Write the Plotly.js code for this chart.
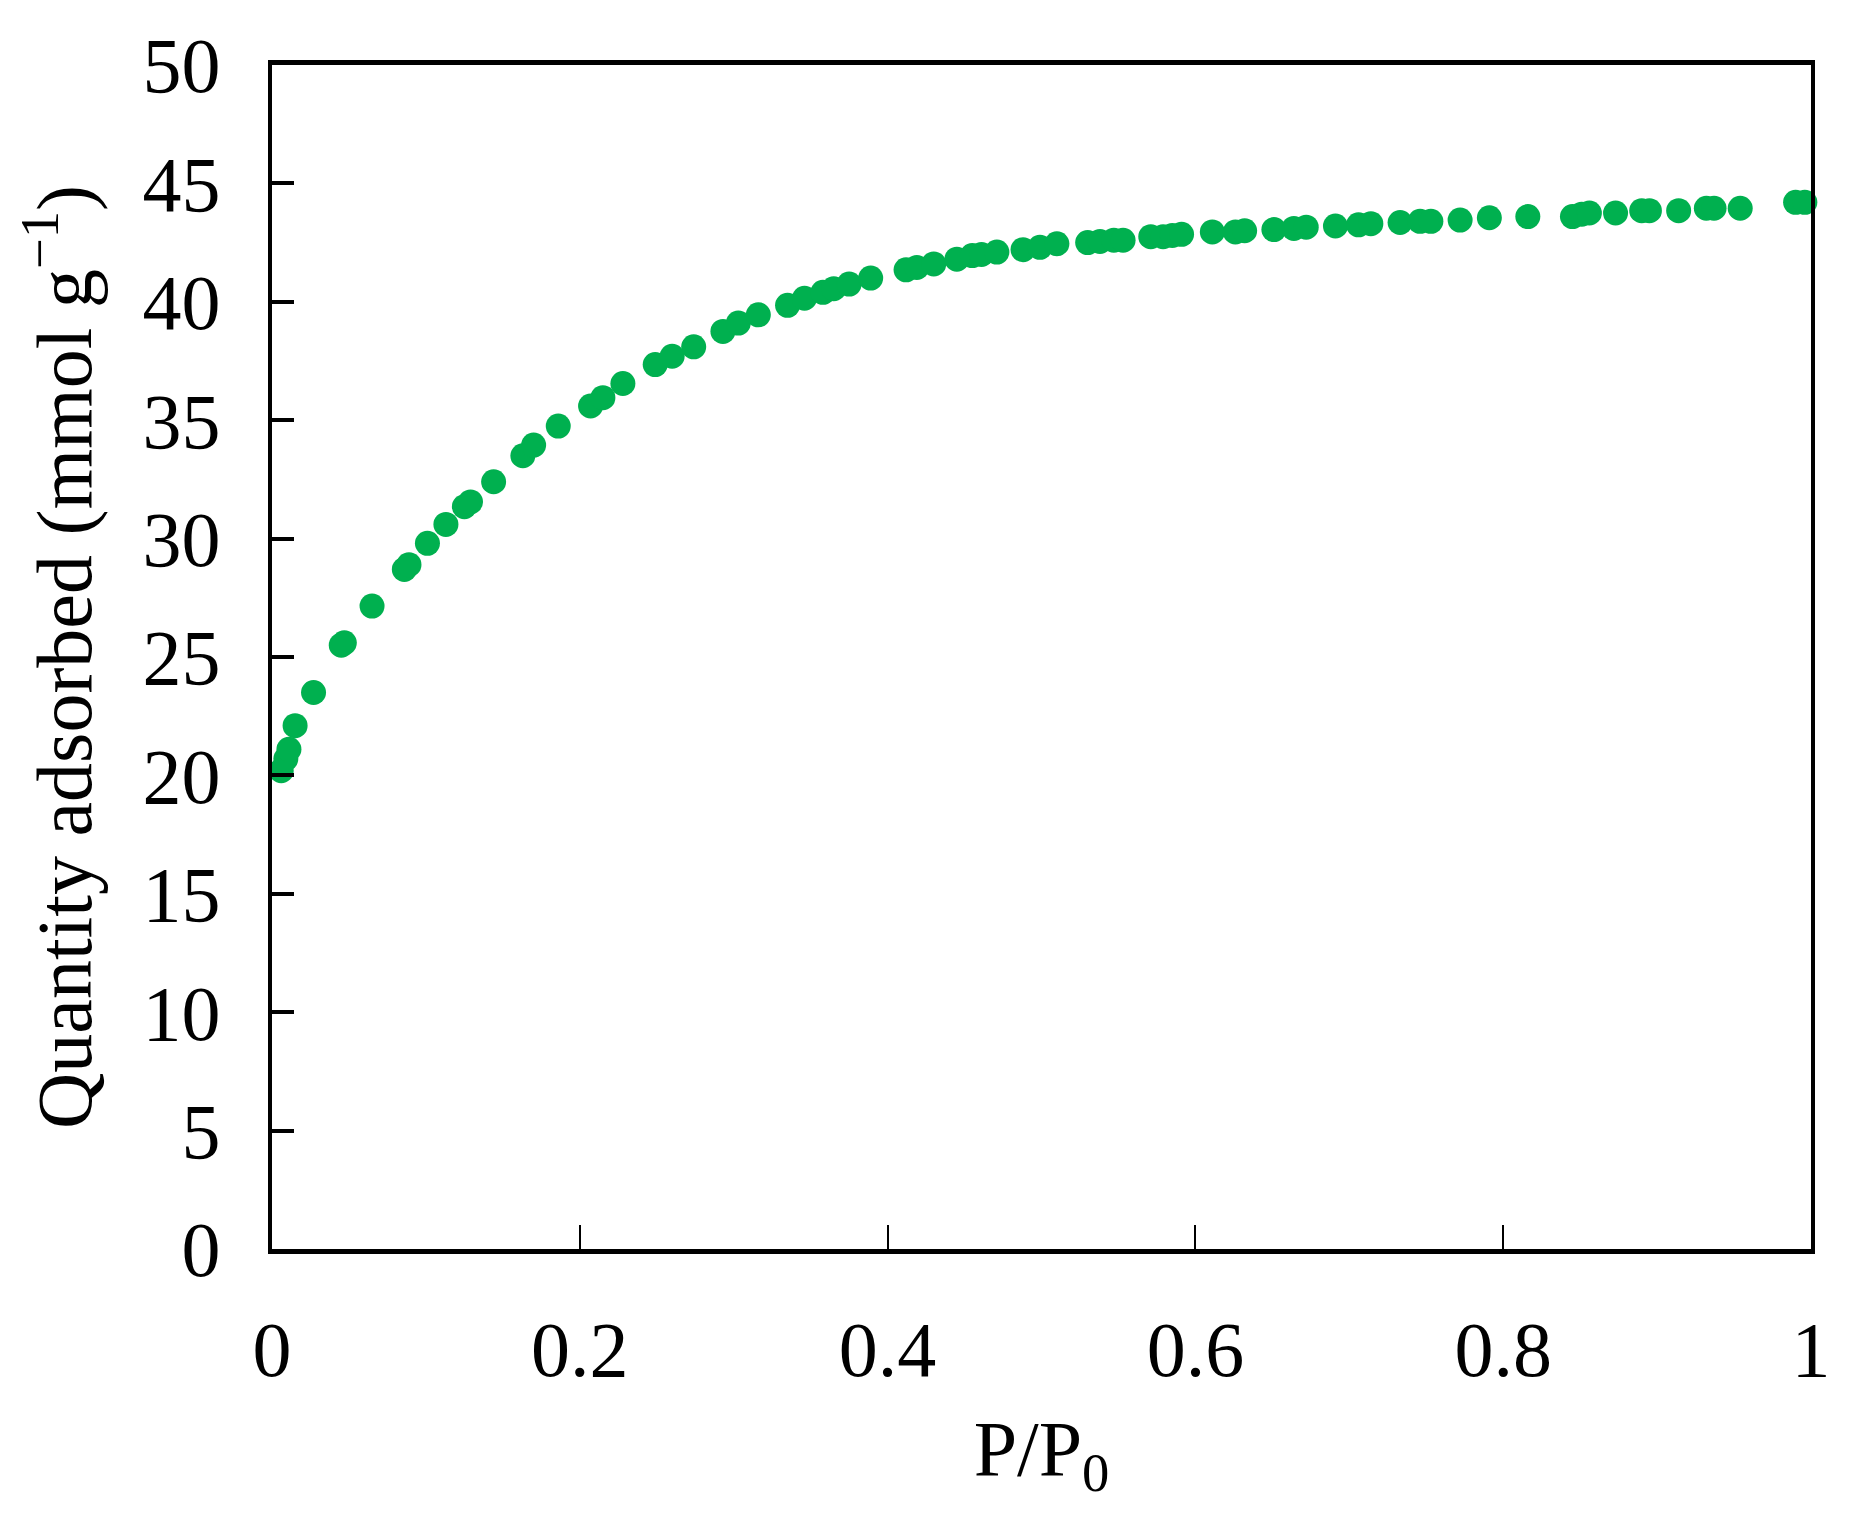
<!DOCTYPE html>
<html>
<head>
<meta charset="utf-8">
<script src="https://cdn.plot.ly/plotly-3.0.1.min.js"></script>
<style>
  body { margin: 0; background: white; }
  #graph { width: 1862px; height: 1518px; }
</style>
</head>
<body>
<div id="graph"></div>
<script>
// relative pressure P/P0
const relPressure = [
    0.006, 0.009, 0.011, 0.015, 0.027, 0.045, 0.047, 0.065, 0.086, 0.089,
    0.101, 0.113, 0.125, 0.129, 0.144, 0.163, 0.170, 0.186, 0.207, 0.215,
    0.228, 0.249, 0.260, 0.274, 0.293, 0.303, 0.316, 0.335, 0.346, 0.358,
    0.365, 0.375, 0.389, 0.412, 0.419, 0.430, 0.445, 0.455, 0.461, 0.471,
    0.488, 0.499, 0.510, 0.530, 0.538, 0.547, 0.553, 0.571, 0.579, 0.585,
    0.591, 0.611, 0.626, 0.632, 0.651, 0.664, 0.672, 0.691, 0.706, 0.714,
    0.733, 0.746, 0.753, 0.772, 0.791, 0.816, 0.845, 0.851, 0.856, 0.873,
    0.890, 0.895, 0.914, 0.932, 0.937, 0.954, 0.990, 0.996
];

// quantity adsorbed (mmol/g)
const adsorbed = [
    20.2, 20.7, 21.1, 22.1, 23.5, 25.5, 25.6, 27.15, 28.7, 28.9,
    29.8, 30.6, 31.35, 31.55, 32.4, 33.5, 33.95, 34.75, 35.6, 35.95,
    36.55, 37.35, 37.7, 38.1, 38.75, 39.1, 39.45, 39.85, 40.15, 40.4,
    40.55, 40.75, 41.0, 41.35, 41.45, 41.6, 41.8, 41.95, 42.0, 42.1,
    42.2, 42.3, 42.45, 42.5, 42.55, 42.6, 42.6, 42.75, 42.75, 42.8,
    42.85, 42.95, 42.95, 43.0, 43.05, 43.1, 43.15, 43.2, 43.25, 43.3,
    43.35, 43.4, 43.4, 43.45, 43.55, 43.6, 43.6, 43.7, 43.75, 43.75,
    43.85, 43.85, 43.85, 43.95, 43.95, 43.95, 44.2, 44.2
];

const xTicks = [0, 0.2, 0.4, 0.6, 0.8, 1];
const xTickText = ['0', '0.2', '0.4', '0.6', '0.8', '1'];
const yTicks = [0, 5, 10, 15, 20, 25, 30, 35, 40, 45, 50];

const serif = 'Liberation Serif, Times New Roman, serif';

const trace = {
    x: relPressure,
    y: adsorbed,
    mode: 'markers',
    type: 'scatter',
    marker: { color: '#00b04f', size: 25 },
    cliponaxis: false,
    showlegend: false
};

const layout = {
    width: 1862,
    height: 1518,
    margin: { l: 272, r: 51, t: 65, b: 269 },
    paper_bgcolor: 'white',
    plot_bgcolor: 'white',
    font: { family: serif, color: 'black', size: 78 },
    xaxis: {
        range: [0, 1],
        tickvals: xTicks,
        ticktext: xTickText,
        ticks: 'inside',
        ticklen: 24,
        tickwidth: 2,
        tickcolor: 'black',
        ticklabelstandoff: 28,
        showline: true,
        linewidth: 5,
        linecolor: 'black',
        mirror: true,
        showgrid: false,
        zeroline: false,
        title: { text: 'P/P<sub>0</sub>', standoff: 30, font: { size: 78 } }
    },
    yaxis: {
        range: [0, 50],
        tickvals: yTicks,
        ticks: 'inside',
        ticklen: 22,
        tickwidth: 4,
        tickcolor: 'black',
        ticklabelstandoff: 32,
        showline: true,
        linewidth: 4,
        linecolor: 'black',
        mirror: true,
        showgrid: false,
        zeroline: false,
        title: { text: 'Quantity adsorbed (mmol g<sup>\u22121</sup>)', standoff: 26, font: { size: 78 } }
    }
};

Plotly.newPlot('graph', [trace], layout, { displayModeBar: false });
</script>
</body>
</html>
